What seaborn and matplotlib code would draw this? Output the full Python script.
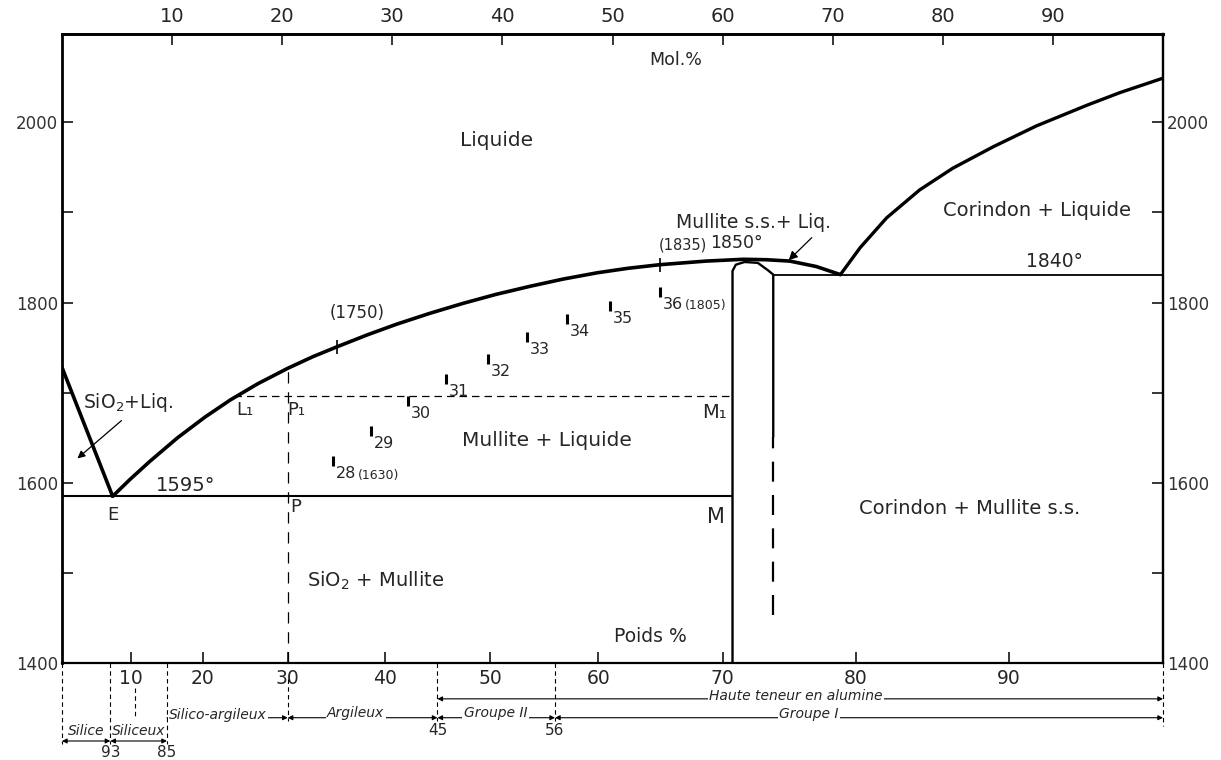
import numpy as np
import pandas as pd
import matplotlib
matplotlib.use("Agg")
import matplotlib.pyplot as plt
import matplotlib.transforms as mtransforms
import seaborn as sns

# ---------------- data (x = mol % Al2O3, y = temperature °C) ----------------
silica_liq_mol = [0.0, 4.6]
silica_liq_T = [1728, 1585]

mullite_liq_mol = [4.6, 6.2, 8.0, 10.5, 13.0, 15.3, 17.8, 20.5, 22.8, 25.0, 27.7, 30.4,
                   33.4, 36.4, 39.4, 42.5, 45.5, 48.6, 51.4, 54.3, 58.5, 61.9, 64.0, 66.1,
                   68.5, 70.7]
mullite_liq_T = [1585, 1604, 1624, 1650, 1673, 1692, 1710, 1727, 1740, 1751, 1764, 1776,
                 1788, 1799, 1809, 1818, 1826, 1833, 1838, 1842, 1846, 1848, 1847.5, 1846,
                 1840, 1831]

corundum_liq_mol = [70.7, 72.5, 74.9, 77.9, 80.9, 84.6, 88.5, 93.1, 96.1, 100.0]
corundum_liq_T = [1831, 1861, 1894, 1925, 1949, 1973, 1996, 2019, 2033, 2049]

mullite_ss_mol = [60.9, 60.9, 61.2, 62.0, 63.2, 64.1, 64.6, 64.6]
mullite_ss_T = [1400, 1835, 1842, 1845, 1844, 1836, 1831, 1651]
mullite_ss_dash_mol = [64.6, 64.6]
mullite_ss_dash_T = [1651, 1453]

eutectic_T = 1585
eutectic_span = [0.0, 60.9]
peritectic_T = 1831
peritectic_span = [64.6, 100.0]

tie_line_span = [15.6, 60.9]
tie_line_T = 1696
P_line_mol = 20.5
P_line_T = [1400, 1727]

cone_labels = ["28", "29", "30", "31", "32", "33", "34", "35", "36"]
cone_mol = [24.6, 28.1, 31.4, 34.9, 38.7, 42.2, 45.9, 49.8, 54.3]
cone_T = [1624, 1657, 1691, 1715, 1737, 1762, 1782, 1796, 1812]
cone_extra = {"28": "(1630)", "36": "(1805)"}

liq_mark_mol = [25.0, 54.3]
liq_mark_T = [1751, 1842]
liq_mark_labels = ["(1750)", "(1835)"]

mol_ticks = [10, 20, 30, 40, 50, 60, 70, 80, 90]
wt_scale_wt = [0, 10, 20, 30, 40, 50, 60, 70, 80, 90, 100]
wt_scale_mol = [0, 6.27, 12.8, 20.5, 29.3, 38.9, 48.7, 60.0, 72.1, 86.0, 100]
T_ticks = [1400, 1500, 1600, 1700, 1800, 1900, 2000]
T_labels = ["1400", "", "1600", "", "1800", "", "2000"]

group_names = ["Silice", "Siliceux", "Silico-argileux", "Argileux", "Groupe II", "Groupe I"]
group_bounds_wt = [(0, 7), (7, 15), (15, 30), (30, 45), (45, 56), (56, 100)]
haute_bounds_wt = (45, 100)
bound_labels = {7: "93", 15: "85", 45: "45", 56: "56"}


def wt_to_mol(w):
    return float(np.interp(w, wt_scale_wt, wt_scale_mol))


# ---------------- figure ----------------
sns.set_style("white")
plt.rcParams["font.family"] = ["DejaVu Sans"]
plt.rcParams["mathtext.fontset"] = "dejavusans"

fig = plt.figure(figsize=(12.21, 7.60), dpi=100)
W, H = 1221, 760
ax = fig.add_axes([62 / W, 1 - 663 / H, (1163 - 62) / W, (663 - 34) / H])
ax.set_xlim(0, 100)
ax.set_ylim(1400, 2098)

K = "black"

# liquidus curves
sns.lineplot(x=silica_liq_mol, y=silica_liq_T, ax=ax, color=K, linewidth=2.6,
             sort=False, estimator=None, legend=False)
sns.lineplot(x=mullite_liq_mol, y=mullite_liq_T, ax=ax, color=K, linewidth=2.6,
             sort=False, estimator=None, legend=False)
sns.lineplot(x=corundum_liq_mol, y=corundum_liq_T, ax=ax, color=K, linewidth=2.4,
             sort=False, estimator=None, legend=False)

# mullite solid solution
sns.lineplot(x=mullite_ss_mol, y=mullite_ss_T, ax=ax, color=K, linewidth=1.7,
             sort=False, estimator=None, legend=False)
ax.vlines(mullite_ss_dash_mol[0], mullite_ss_dash_T[1], mullite_ss_dash_T[0],
          colors=K, linewidth=1.6, linestyles=(0, (9, 6)))

# invariant lines
ax.hlines(eutectic_T, eutectic_span[0], eutectic_span[1], colors=K, linewidth=1.5)
ax.hlines(peritectic_T, peritectic_span[0], peritectic_span[1], colors=K, linewidth=1.3)

# tie line L1-M1 and P line
ax.hlines(tie_line_T, tie_line_span[0], tie_line_span[1], colors=K, linewidth=0.9,
          linestyles=(0, (6, 4)))
ax.vlines(P_line_mol, P_line_T[0], P_line_T[1], colors=K, linewidth=0.9,
          linestyles=(0, (9, 7)))

# cone marks
sns.scatterplot(x=cone_mol, y=cone_T, ax=ax, marker="|", s=60, color=K,
                linewidth=2.2, legend=False)
for lab, xm, tm in zip(cone_labels, cone_mol, cone_T):
    ax.annotate(lab, (xm, tm), xytext=(2, -9), textcoords="offset points",
                ha="left", va="center", fontsize=11.5)
    if lab in cone_extra:
        ax.annotate(cone_extra[lab], (xm, tm), xytext=(18, -10), textcoords="offset points",
                    ha="left", va="center", fontsize=9)

# liquidus marks
sns.scatterplot(x=liq_mark_mol, y=liq_mark_T, ax=ax, marker="|", s=110, color=K,
                linewidth=1.2, legend=False)
ax.text(26.8, 1788, liq_mark_labels[0], ha="center", va="center", fontsize=12)
ax.text(56.4, 1864, liq_mark_labels[1], ha="center", va="center", fontsize=10.5)

# region / point labels
ax.text(55.7, 2069, "Mol.%", ha="center", va="center", fontsize=12.5)
ax.text(39.5, 1980, "Liquide", ha="center", va="center", fontsize=14.5)
ax.text(62.8, 1889, "Mullite s.s.+ Liq.", ha="center", va="center", fontsize=13.5)
ax.text(61.3, 1866, "1850°", ha="center", va="center", fontsize=12.5)
ax.text(88.6, 1902, "Corindon + Liquide", ha="center", va="center", fontsize=14)
ax.text(90.1, 1845, "1840°", ha="center", va="center", fontsize=13.5)
ax.text(6.0, 1689, "SiO$_2$+Liq.", ha="center", va="center", fontsize=13.5)
ax.text(11.2, 1597, "1595°", ha="center", va="center", fontsize=14)
ax.text(44.0, 1647, "Mullite + Liquide", ha="center", va="center", fontsize=14.5)
ax.text(82.4, 1572, "Corindon + Mullite s.s.", ha="center", va="center", fontsize=14)
ax.text(28.5, 1491, "SiO$_2$ + Mullite", ha="center", va="center", fontsize=14)
ax.text(53.4, 1429, "Poids %", ha="center", va="center", fontsize=13.5)
ax.text(4.6, 1564, "E", ha="center", va="center", fontsize=13)
ax.text(21.2, 1573, "P", ha="center", va="center", fontsize=13)
ax.text(59.4, 1562, "M", ha="center", va="center", fontsize=15)
ax.text(16.6, 1681, "L₁", ha="center", va="center", fontsize=13)
ax.text(21.3, 1681, "P₁", ha="center", va="center", fontsize=13)
ax.text(59.3, 1678, "M₁", ha="center", va="center", fontsize=14)

ax.annotate("", xy=(1.4, 1627), xytext=(5.4, 1669),
            arrowprops=dict(arrowstyle="-|>", color=K, lw=0.9, mutation_scale=11,
                            shrinkA=0, shrinkB=0))
ax.annotate("", xy=(66.0, 1847), xytext=(68.1, 1872),
            arrowprops=dict(arrowstyle="-|>", color=K, lw=0.9, mutation_scale=13,
                            shrinkA=0, shrinkB=0))

# ---------------- axes, ticks ----------------
for s in ax.spines.values():
    s.set_visible(True)
    s.set_color(K)
    s.set_linewidth(1.6)
ax.spines["top"].set_linewidth(2.0)
ax.spines["left"].set_linewidth(2.0)

ax.set_xticks(wt_scale_mol[1:-1])
ax.set_xticklabels([str(v) for v in wt_scale_wt[1:-1]])
ax.tick_params(axis="x", direction="in", length=8, width=1.3, labelsize=13.5, pad=4,
               bottom=True, top=False)
ax.set_yticks(T_ticks)
ax.set_yticklabels(T_labels)
ax.tick_params(axis="y", direction="in", length=8, width=1.3, labelsize=12, pad=3,
               left=True, right=False, labelcolor="#333333")

top = ax.secondary_xaxis("top")
top.set_xticks(mol_ticks)
top.set_xticklabels([str(v) for v in mol_ticks])
top.tick_params(direction="in", length=8, width=1.3, labelsize=14, pad=6)
top.spines["top"].set_linewidth(2.0)

right = ax.secondary_yaxis("right")
right.set_yticks(T_ticks)
right.set_yticklabels(T_labels)
right.tick_params(direction="in", length=8, width=1.3, labelsize=12, pad=3,
                  labelcolor="#333333")
right.spines["right"].set_linewidth(1.6)

ax.set_xlabel("")
ax.set_ylabel("")

# ---------------- classification below the axis ----------------
tr = mtransforms.blended_transform_factory(ax.transData, ax.transAxes)
row_haute = -0.057
row_mid = -0.087
row_low = -0.124
dash = (0, (4, 3))


def vdash(w, y0, y1):
    ax.plot([wt_to_mol(w)] * 2, [y0, y1], transform=tr, color=K, lw=0.8,
            linestyle=dash, clip_on=False)


def arrow(w0, w1, y, style="<|-|>"):
    ax.annotate("", xy=(wt_to_mol(w1), y), xytext=(wt_to_mol(w0), y),
                xycoords=tr, textcoords=tr,
                arrowprops=dict(arrowstyle=style, color=K, lw=0.8, mutation_scale=7,
                                shrinkA=0, shrinkB=0), annotation_clip=False)


for w in (0, 7, 15):
    vdash(w, 0, -0.128)
vdash(30, -0.025, -0.092)
for w in (45, 56):
    vdash(w, 0, -0.092)
vdash(100, 0, -0.10)
vdash(10.6, -0.04, -0.085)

# arrows
arrow(0, 7, row_low)
arrow(7, 15, row_low)
arrow(15, 30, row_mid, style="-|>")
arrow(30, 45, row_mid)
arrow(45, 56, row_mid)
arrow(56, 100, row_mid)
arrow(45, 100, row_haute)

itxt = dict(fontsize=10, fontstyle="italic", transform=tr, clip_on=False, va="center")
box = dict(facecolor="white", edgecolor="none", pad=1.0)
ax.text(wt_to_mol(3.5), row_low + 0.016, group_names[0], ha="center", **itxt)
ax.text(wt_to_mol(11), row_low + 0.016, group_names[1], ha="center", **itxt)
ax.text(wt_to_mol(15.3), row_mid + 0.004, group_names[2], ha="left", bbox=box, **itxt)
ax.text(wt_to_mol(37.0), row_mid + 0.008, group_names[3], ha="center", bbox=box, **itxt)
ax.text(wt_to_mol(50.5), row_mid + 0.008, group_names[4], ha="center", bbox=box, **itxt)
ax.text(wt_to_mol(76.5), row_mid + 0.006, group_names[5], ha="center", bbox=box, **itxt)
ax.text(wt_to_mol(75.5), row_haute + 0.004, "Haute teneur en alumine", ha="center",
        bbox=box, **itxt)

ntxt = dict(fontsize=11, transform=tr, clip_on=False, ha="center", va="center")
ax.text(wt_to_mol(7), -0.143, bound_labels[7], **ntxt)
ax.text(wt_to_mol(15), -0.143, bound_labels[15], **ntxt)
ax.text(wt_to_mol(45), -0.107, bound_labels[45], **ntxt)
ax.text(wt_to_mol(56), -0.107, bound_labels[56], **ntxt)

fig.savefig("out.png", dpi=100, facecolor="white")
